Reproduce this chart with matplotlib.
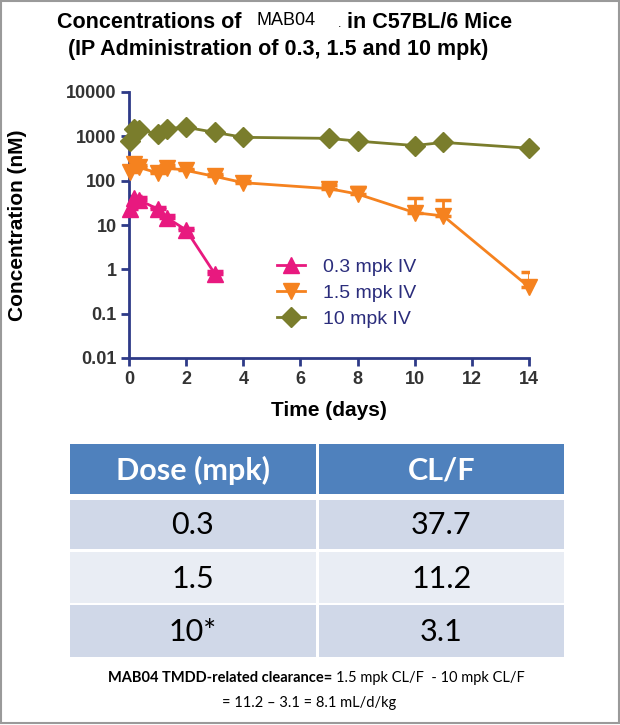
#!/usr/bin/env python3
"""
MAB04 concentration-time profile in C57BL/6 mice, with CL/F table
"""

import matplotlib
matplotlib.use("Agg")
import matplotlib.pyplot as plt
from matplotlib.patches import Rectangle
import numpy as np

# time points (days)
t_low = [0.0417, 0.167, 0.333, 1, 1.333, 2, 3]
t_all = [0.0417, 0.167, 0.333, 1, 1.333, 2, 3, 4, 7, 8, 10, 11, 14]

# concentrations (nM)
conc_03 = [23, 40, 37, 23, 14.5, 7.7, 0.8]
err_03 = [2, 6, 5, 3, 2, 1, 0.1]
conc_15 = [160, 240, 200, 150, 195, 170, 125, 90, 66, 50, 19, 16, 0.4]
err_15 = [15, 30, 20, 15, 25, 15, 15, 10, 15, 23, 22, 21, 0.45]
conc_10 = [775, 1500, 1400, 1150, 1500, 1600, 1230, 950, 900, 780, 620, 730, 540]

labels = ["0.3 mpk IV", "1.5 mpk IV", "10 mpk IV"]
colors = ["#E8197F", "#F5821F", "#7A7D2C"]

# table
table_header = ["Dose (mpk)", "CL/F"]
table_dose = ["0.3", "1.5", "10*"]
table_clf = ["37.7", "11.2", "3.1"]

W, H = 620, 725
fig = plt.figure(figsize=(W / 100, H / 100), dpi=100)

# 版面层 (pixel coordinates)
lay = fig.add_axes([0, 0, 1, 1])
lay.set_xlim(0, W)
lay.set_ylim(H, 0)
lay.axis("off")

axis_c = "#2E3A87"
tick_c = "#333333"

ax = fig.add_axes([129 / W, 1 - 358 / H, 400 / W, 266 / H])
ax.set_yscale("log")
ax.set_xlim(0, 14)
ax.set_ylim(0.01, 10000)

series = [(t_low, conc_03, err_03, "^"), (t_all, conc_15, err_15, "v"), (t_all, conc_10, None, "D")]
for (tt, cc, ee, mk), lab, col in zip(series, labels, colors):
    if ee is not None:
        ax.errorbar(tt, cc, yerr=[np.zeros(len(ee)), ee], fmt="none", ecolor=col,
                    elinewidth=2, capsize=5.5, capthick=2.5, zorder=2)
    ms = 10 if mk == "D" else 11
    ax.plot(tt, cc, color=col, marker=mk, markersize=ms, linewidth=2,
            markeredgecolor=col, label=lab, zorder=3, clip_on=False)

for side in ["top", "right"]:
    ax.spines[side].set_visible(False)
for side in ["left", "bottom"]:
    ax.spines[side].set_color(axis_c)
    ax.spines[side].set_linewidth(2)

ax.set_xticks([0, 2, 4, 6, 8, 10, 12, 14])
ax.set_yticks([0.01, 0.1, 1, 10, 100, 1000, 10000])
ax.set_yticklabels(["0.01", "0.1", "1", "10", "100", "1000", "10000"])
ax.yaxis.set_minor_locator(matplotlib.ticker.NullLocator())
ax.tick_params(axis="both", which="major", direction="out", length=6, width=2,
               color=axis_c, labelcolor=tick_c, labelsize=13, pad=3)
for lbl in ax.get_xticklabels() + ax.get_yticklabels():
    lbl.set_fontfamily("Liberation Sans")
    lbl.set_fontweight("bold")

ax.set_xlabel("Time (days)", fontsize=15, fontweight="bold", family="Liberation Sans", labelpad=10)
ax.set_ylabel("Concentration (nM)", fontsize=15, fontweight="bold", family="Liberation Sans")
ax.yaxis.set_label_coords(-0.255, 0.5)

leg = ax.legend(loc="center left", bbox_to_anchor=(0.37, 0.244), frameon=False,
                prop={"family": "Liberation Sans", "size": 14}, handlelength=1.45,
                handletextpad=0.9, labelspacing=0.45, borderpad=0, borderaxespad=0,
                numpoints=1)
for txt in leg.get_texts():
    txt.set_color("#2B2D7C")

# 标题
tfont = {"family": "Liberation Sans", "fontsize": 15.5, "fontweight": "bold", "color": "black"}
lay.text(57, 22, "Concentrations of", ha="left", va="center", **tfont)
lay.text(256, 20, "MAB04", ha="left", va="center", family="Liberation Sans", fontsize=13)
lay.text(338, 24, ".", ha="left", va="center", family="Liberation Sans", fontsize=9)
lay.text(512, 22, "in C57BL/6 Mice", ha="right", va="center", **tfont)
lay.text(278, 49, "(IP Administration of 0.3, 1.5 and 10 mpk)", ha="center", va="center", **tfont)

# 表格
x0, xm, x1 = 70, 317, 564
rows_y = [(444, 494), (500, 549), (552, 603), (605, 657)]
fills = ["#4F81BD", "#D0D8E8", "#E9EDF4", "#D0D8E8"]
cells = [table_header] + [[d, c] for d, c in zip(table_dose, table_clf)]
for (ya, yb), fc, row in zip(rows_y, fills, cells):
    for (xa, xb), val in zip([(x0, xm - 1.5), (xm + 1.5, x1)], row):
        lay.add_patch(Rectangle((xa, ya), xb - xa, yb - ya, facecolor=fc, edgecolor="none"))
        header = fc == "#4F81BD"
        lay.text((xa + xb) / 2, (ya + yb) / 2 + 1, val, ha="center", va="center",
                 family="Lato", fontsize=22, fontweight="bold" if header else "normal",
                 color="white" if header else "black")

# 脚注
lay.text(332, 678, "MAB04 TMDD-related clearance=", ha="right", va="center",
         family="Lato", fontsize=10.5, fontweight="bold", color="black")
lay.text(336, 678, "1.5 mpk CL/F  - 10 mpk CL/F", ha="left", va="center",
         family="Lato", fontsize=10.5, color="black")
lay.text(309, 703, "= 11.2 \u2013 3.1 = 8.1 mL/d/kg", ha="center", va="center",
         family="Lato", fontsize=10.5, color="black")

# 外框
lay.add_patch(Rectangle((1, 1), W - 2.5, H - 3, facecolor="none", edgecolor="#9A9A9A", linewidth=1.5))

fig.savefig("out.png", dpi=100)
